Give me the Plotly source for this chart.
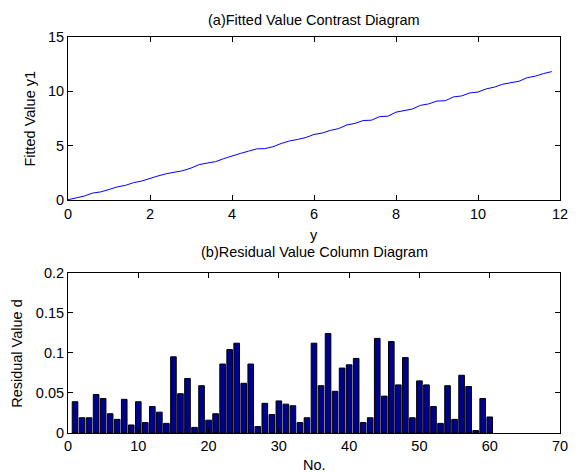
import plotly.graph_objects as go

# ---- data ----
y_obs = [0.0, 0.2, 0.4, 0.6, 0.8, 1.0, 1.2, 1.4, 1.6, 1.8,
         2.0, 2.2, 2.4, 2.6, 2.8, 3.0, 3.2, 3.4, 3.6, 3.8,
         4.0, 4.2, 4.4, 4.6, 4.8, 5.0, 5.2, 5.4, 5.6, 5.8,
         6.0, 6.2, 6.4, 6.6, 6.8, 7.0, 7.2, 7.4, 7.6, 7.8,
         8.0, 8.2, 8.4, 8.6, 8.8, 9.0, 9.2, 9.4, 9.6, 9.8,
         10.0, 10.2, 10.4, 10.6, 10.8, 11.0, 11.2, 11.4, 11.6, 11.8]
y_fit = [0.04, 0.22, 0.38, 0.65, 0.76, 0.98, 1.22, 1.36, 1.61, 1.76,
         2.01, 2.23, 2.43, 2.59, 2.71, 2.95, 3.27, 3.41, 3.54, 3.82,
         4.02, 4.29, 4.50, 4.71, 4.74, 4.91, 5.21, 5.44, 5.58, 5.76,
         6.04, 6.17, 6.41, 6.58, 6.91, 7.06, 7.32, 7.35, 7.68, 7.72,
         8.09, 8.21, 8.38, 8.72, 8.85, 9.11, 9.14, 9.49, 9.58, 9.86,
         9.94, 10.23, 10.39, 10.66, 10.82, 10.93, 11.26, 11.40, 11.64, 11.82]
sample_no = list(range(1, 61))
residual = [0.039, 0.019, 0.019, 0.048, 0.043, 0.024, 0.017, 0.042, 0.010, 0.039,
            0.013, 0.033, 0.026, 0.012, 0.095, 0.049, 0.068, 0.007, 0.059, 0.016,
            0.024, 0.086, 0.104, 0.112, 0.062, 0.086, 0.008, 0.037, 0.023, 0.040,
            0.036, 0.034, 0.013, 0.019, 0.112, 0.059, 0.124, 0.052, 0.081, 0.085,
            0.093, 0.013, 0.019, 0.118, 0.046, 0.114, 0.060, 0.094, 0.019, 0.065,
            0.060, 0.033, 0.012, 0.059, 0.017, 0.072, 0.058, 0.003, 0.043, 0.020]

top_xticks = [0, 2, 4, 6, 8, 10, 12]
top_yticks = [0, 5, 10, 15]
bot_xticks = [0, 10, 20, 30, 40, 50, 60, 70]
bot_yticks = [0, 0.05, 0.1, 0.15, 0.2]
bot_ytext = ["0", "0.05", "0.1", "0.15", "0.2"]

FONT = "Liberation Sans, Arial, sans-serif"
FS = 14.5

fig = go.Figure()
fig.add_trace(go.Scatter(x=y_obs, y=y_fit, mode="lines",
                         line=dict(color="rgb(0,0,255)", width=1),
                         xaxis="x", yaxis="y", showlegend=False))
fig.add_trace(go.Bar(x=sample_no, y=residual, width=0.8,
                     marker=dict(color="rgb(0,0,143)",
                                 line=dict(color="black", width=1)),
                     xaxis="x2", yaxis="y2", showlegend=False))

axis_common = dict(showline=True, linecolor="black", linewidth=1, mirror="ticks",
                   ticks="inside", ticklen=5, tickcolor="black", showgrid=False,
                   zeroline=False, tickfont=dict(size=FS, color="black"),
                   ticklabeloverflow="allow")

def ann(text, x, y, angle=0):
    return dict(text=text, xref="paper", yref="paper", x=x, y=y,
                xanchor="center", yanchor="middle", showarrow=False,
                textangle=angle, font=dict(size=FS, color="black"))

fig.update_layout(
    width=571, height=464,
    margin=dict(l=60, r=11, t=29, b=39),
    paper_bgcolor="white", plot_bgcolor="white",
    font=dict(family=FONT, size=FS, color="black"),
    xaxis=dict(domain=[0, 1], anchor="y", range=[0, 12], tickvals=top_xticks,
               **axis_common),
    yaxis=dict(domain=[0.588, 1], anchor="x", range=[0, 15], tickvals=top_yticks,
               **axis_common),
    xaxis2=dict(domain=[0, 1], anchor="y2", range=[0, 70], tickvals=bot_xticks,
                **axis_common),
    yaxis2=dict(domain=[0, 0.405], anchor="x2", range=[0, 0.2], tickvals=bot_yticks,
                ticktext=bot_ytext, **axis_common),
    annotations=[
        ann("(a)Fitted Value Contrast Diagram", 0.5, 1.043),
        ann("(b)Residual Value Column Diagram", 0.5, 0.457),
        ann("y", 0.5, 0.50),
        ann("No.", 0.5, -0.081),
        ann("Fitted Value y1", -0.078, 0.793, -90),
        ann("Residual Value d", -0.104, 0.202, -90),
    ],
)

fig.write_html("out.html")
